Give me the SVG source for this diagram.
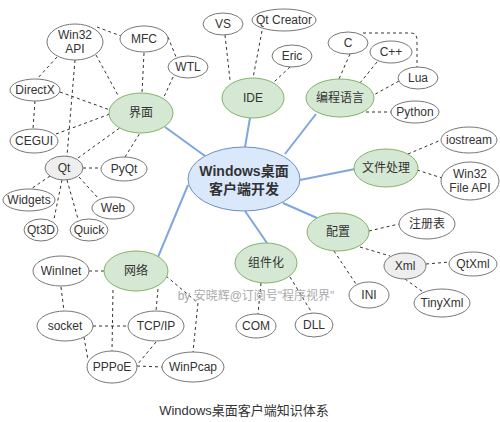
<svg xmlns="http://www.w3.org/2000/svg" width="500" height="422" viewBox="0 0 500 422">
<style>
text{font-family:"Liberation Sans",Arial,"Noto Sans CJK SC",sans-serif;font-size:12px;fill:#333;text-anchor:middle;dominant-baseline:central}
.leaf{fill:#fff;stroke:#777;stroke-width:1}
.main{fill:#d5e8d4;stroke:#82b366;stroke-width:1}
.grey{fill:#eee;stroke:#777;stroke-width:1}
.root{fill:#dae8fc;stroke:#6c8ebf;stroke-width:1}
.b{stroke:#7ea6e0;stroke-width:2;fill:none}
.d{stroke:#333;stroke-width:1;stroke-dasharray:3 3;fill:none}
</style>
<rect width="500" height="422" fill="#fff"/>
<g id="connectors">
<line class="b" x1="165" y1="127" x2="205" y2="156"/>
<line class="b" x1="250" y1="118" x2="245" y2="147"/>
<line class="b" x1="316" y1="114" x2="285" y2="154"/>
<line class="b" x1="355" y1="169" x2="300" y2="180"/>
<line class="b" x1="317" y1="218" x2="283" y2="203"/>
<line class="b" x1="245" y1="211" x2="267" y2="243"/>
<line class="b" x1="188" y1="185" x2="158" y2="257"/>
<line class="d" x1="97" y1="27" x2="121" y2="36"/>
<line class="d" x1="96" y1="55" x2="119" y2="97"/>
<line class="d" x1="144" y1="53" x2="142" y2="93"/>
<line class="d" x1="168" y1="37" x2="176" y2="57"/>
<line class="d" x1="173" y1="77" x2="163" y2="99"/>
<line class="d" x1="57" y1="57" x2="37" y2="79"/>
<line class="d" x1="75" y1="60" x2="67" y2="156"/>
<line class="d" x1="60" y1="92" x2="110" y2="110"/>
<line class="d" x1="35" y1="101" x2="33" y2="129"/>
<line class="d" x1="56" y1="134" x2="110" y2="114"/>
<line class="d" x1="78" y1="158" x2="121" y2="127"/>
<line class="d" x1="125" y1="157" x2="140" y2="133"/>
<line class="d" x1="83" y1="168" x2="101" y2="168"/>
<line class="d" x1="50" y1="176" x2="31" y2="189"/>
<line class="d" x1="62" y1="180" x2="54" y2="219"/>
<line class="d" x1="67" y1="180" x2="78" y2="219"/>
<line class="d" x1="79" y1="177" x2="98" y2="198"/>
<line class="d" x1="225" y1="35" x2="230" y2="80"/>
<line class="d" x1="262" y1="31" x2="253" y2="78"/>
<line class="d" x1="290" y1="67" x2="274" y2="82"/>
<line class="d" x1="350" y1="54" x2="339" y2="79"/>
<line class="d" x1="377" y1="62" x2="360" y2="83"/>
<line class="d" x1="399" y1="81" x2="370" y2="97"/>
<line class="d" x1="360" y1="112" x2="391" y2="112"/>
<path class="d" d="M363 33 H410 Q417 33 417 40 V67"/>
<line class="d" x1="408" y1="154" x2="441" y2="140"/>
<line class="d" x1="417" y1="170" x2="442" y2="178"/>
<line class="d" x1="369" y1="231" x2="399" y2="224"/>
<line class="d" x1="360" y1="247" x2="390" y2="256"/>
<line class="d" x1="334" y1="251" x2="356" y2="284"/>
<line class="d" x1="426" y1="264" x2="450" y2="262"/>
<line class="d" x1="405" y1="279" x2="423" y2="292"/>
<line class="d" x1="261" y1="283" x2="258" y2="314"/>
<line class="d" x1="290" y1="277" x2="312" y2="313"/>
<line class="d" x1="89" y1="271" x2="104" y2="271"/>
<line class="d" x1="61" y1="287" x2="64" y2="311"/>
<line class="d" x1="113" y1="290" x2="112" y2="351"/>
<line class="d" x1="158" y1="289" x2="156" y2="311"/>
<path class="d" d="M166 276 L198 303 L193 352"/>
<line class="d" x1="93" y1="326" x2="128" y2="326"/>
<line class="d" x1="84" y1="337" x2="88" y2="360"/>
<line class="d" x1="156" y1="342" x2="137" y2="365"/>
<line class="d" x1="137" y1="366" x2="162" y2="367"/>
</g>
<g id="root"><ellipse class="root" cx="244" cy="179" rx="56" ry="32"/><text x="244" y="171" style="font-size:14px;font-weight:bold">Windows桌面</text><text x="244" y="189" style="font-size:14px;font-weight:bold">客户端开发</text></g>
<g id="jiemian"><ellipse class="main" cx="141" cy="113" rx="32" ry="20"/><text x="141" y="113">界面</text></g>
<g id="win32api"><ellipse class="leaf" cx="75" cy="42" rx="28" ry="18"/><text x="75" y="35">Win32</text><text x="75" y="49">API</text></g>
<g id="mfc"><ellipse class="leaf" cx="144" cy="39" rx="24" ry="13"/><text x="144" y="39">MFC</text></g>
<g id="wtl"><ellipse class="leaf" cx="188" cy="67" rx="20" ry="11"/><text x="188" y="67">WTL</text></g>
<g id="directx"><ellipse class="leaf" cx="35" cy="90" rx="25" ry="11"/><text x="35" y="90">DirectX</text></g>
<g id="cegui"><ellipse class="leaf" cx="34" cy="141" rx="24" ry="12"/><text x="34" y="141">CEGUI</text></g>
<g id="qt"><ellipse class="grey" cx="64" cy="168" rx="19" ry="12"/><text x="64" y="168">Qt</text></g>
<g id="pyqt"><ellipse class="leaf" cx="124" cy="169" rx="23" ry="12"/><text x="124" y="169">PyQt</text></g>
<g id="widgets"><ellipse class="leaf" cx="29" cy="200" rx="26" ry="11"/><text x="29" y="200">Widgets</text></g>
<g id="web"><ellipse class="leaf" cx="113" cy="208" rx="21" ry="11"/><text x="113" y="208">Web</text></g>
<g id="qt3d"><ellipse class="leaf" cx="41" cy="230" rx="17" ry="11"/><text x="41" y="230">Qt3D</text></g>
<g id="quick"><ellipse class="leaf" cx="89" cy="230" rx="19" ry="11"/><text x="89" y="230">Quick</text></g>
<g id="ide"><ellipse class="main" cx="253" cy="98" rx="31" ry="20"/><text x="253" y="98">IDE</text></g>
<g id="vs"><ellipse class="leaf" cx="223" cy="24" rx="20" ry="11"/><text x="223" y="24">VS</text></g>
<g id="qtcreator"><ellipse class="leaf" cx="284" cy="20" rx="32" ry="11"/><text x="284" y="20">Qt Creator</text></g>
<g id="eric"><ellipse class="leaf" cx="292" cy="56" rx="20" ry="11"/><text x="292" y="56">Eric</text></g>
<g id="lang"><ellipse class="main" cx="340" cy="98" rx="34" ry="19"/><text x="340" y="98">编程语言</text></g>
<g id="c"><ellipse class="leaf" cx="348" cy="43" rx="20" ry="11"/><text x="348" y="43">C</text></g>
<g id="cpp"><ellipse class="leaf" cx="391" cy="52" rx="21" ry="11"/><text x="391" y="52">C++</text></g>
<g id="lua"><ellipse class="leaf" cx="418" cy="78" rx="20" ry="11"/><text x="418" y="78">Lua</text></g>
<g id="python"><ellipse class="leaf" cx="415" cy="112" rx="24" ry="11"/><text x="415" y="112">Python</text></g>
<g id="file"><ellipse class="main" cx="386" cy="168" rx="32" ry="19"/><text x="386" y="168">文件处理</text></g>
<g id="iostream"><ellipse class="leaf" cx="469" cy="140" rx="28" ry="13"/><text x="469" y="140">iostream</text></g>
<g id="win32file"><ellipse class="leaf" cx="470" cy="181" rx="29" ry="19"/><text x="470" y="174">Win32</text><text x="470" y="188">File API</text></g>
<g id="config"><ellipse class="main" cx="338" cy="232" rx="31" ry="19"/><text x="338" y="232">配置</text></g>
<g id="reg"><ellipse class="leaf" cx="427" cy="224" rx="28" ry="15"/><text x="427" y="224">注册表</text></g>
<g id="xml"><ellipse class="grey" cx="405" cy="266" rx="21" ry="13"/><text x="405" y="266">Xml</text></g>
<g id="qtxml"><ellipse class="leaf" cx="473" cy="264" rx="24" ry="12"/><text x="473" y="264">QtXml</text></g>
<g id="tinyxml"><ellipse class="leaf" cx="442" cy="303" rx="28" ry="14"/><text x="442" y="303">TinyXml</text></g>
<g id="ini"><ellipse class="leaf" cx="369" cy="295" rx="20" ry="13"/><text x="369" y="295">INI</text></g>
<g id="component"><ellipse class="main" cx="266" cy="263" rx="31" ry="20"/><text x="266" y="263">组件化</text></g>
<g id="com"><ellipse class="leaf" cx="256" cy="326" rx="20" ry="12"/><text x="256" y="326">COM</text></g>
<g id="dll"><ellipse class="leaf" cx="314" cy="325" rx="19" ry="12"/><text x="314" y="325">DLL</text></g>
<g id="network"><ellipse class="main" cx="136" cy="271" rx="32" ry="20"/><text x="136" y="271">网络</text></g>
<g id="wininet"><ellipse class="leaf" cx="61" cy="271" rx="28" ry="15"/><text x="61" y="271">WinInet</text></g>
<g id="socket"><ellipse class="leaf" cx="65" cy="326" rx="28" ry="15"/><text x="65" y="326">socket</text></g>
<g id="tcpip"><ellipse class="leaf" cx="156" cy="326" rx="28" ry="15"/><text x="156" y="326">TCP/IP</text></g>
<g id="pppoe"><ellipse class="leaf" cx="112" cy="367" rx="25" ry="16"/><text x="112" y="367">PPPoE</text></g>
<g id="winpcap"><ellipse class="leaf" cx="193" cy="367" rx="31" ry="15"/><text x="193" y="367">WinPcap</text></g>
<text x="256" y="296" style="fill:#aaa;font-size:12px">by 安晓辉@订阅号"程序视界"</text>
<text x="244" y="410" style="font-size:13px">Windows桌面客户端知识体系</text>
</svg>
